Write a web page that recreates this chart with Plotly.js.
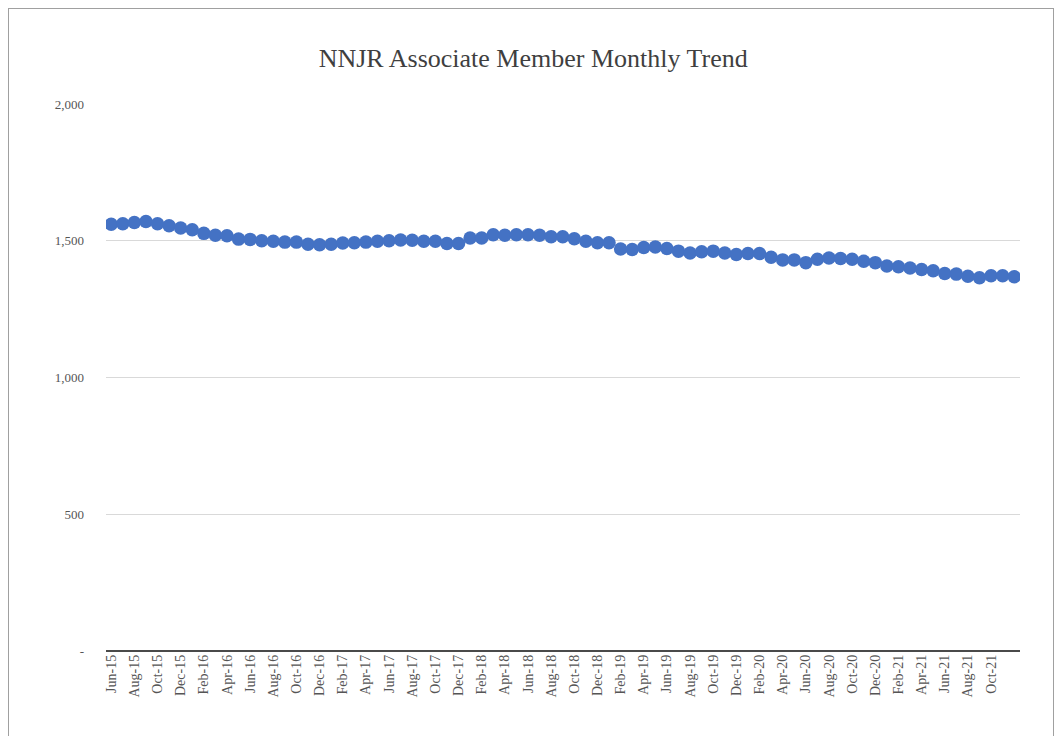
<!DOCTYPE html>
<html>
<head>
<meta charset="utf-8">
<script src="https://cdn.plot.ly/plotly-3.0.1.min.js"></script>
<style>
  html, body { margin: 0; padding: 0; background: #ffffff; }
  #frame { position: absolute; left: 8px; top: 8px; width: 1046px; height: 740px; border: 1px solid #a0a0a0; box-sizing: border-box; }
  #chart { position: absolute; left: 0; top: 0; width: 1060px; height: 736px; }
</style>
</head>
<body>
<div id="frame"></div>
<div id="chart"></div>
<script>
const months = [
  "Jun-15","Jul-15","Aug-15","Sep-15","Oct-15","Nov-15","Dec-15",
  "Jan-16","Feb-16","Mar-16","Apr-16","May-16","Jun-16","Jul-16","Aug-16","Sep-16","Oct-16","Nov-16","Dec-16",
  "Jan-17","Feb-17","Mar-17","Apr-17","May-17","Jun-17","Jul-17","Aug-17","Sep-17","Oct-17","Nov-17","Dec-17",
  "Jan-18","Feb-18","Mar-18","Apr-18","May-18","Jun-18","Jul-18","Aug-18","Sep-18","Oct-18","Nov-18","Dec-18",
  "Jan-19","Feb-19","Mar-19","Apr-19","May-19","Jun-19","Jul-19","Aug-19","Sep-19","Oct-19","Nov-19","Dec-19",
  "Jan-20","Feb-20","Mar-20","Apr-20","May-20","Jun-20","Jul-20","Aug-20","Sep-20","Oct-20","Nov-20","Dec-20",
  "Jan-21","Feb-21","Mar-21","Apr-21","May-21","Jun-21","Jul-21","Aug-21","Sep-21","Oct-21","Nov-21","Dec-21"
];

const members = [
  1560,1562,1567,1570,1562,1555,1547,
  1540,1527,1520,1518,1506,1505,1500,1498,1495,1495,1487,1485,
  1487,1492,1493,1495,1498,1500,1503,1502,1498,1498,1490,1490,
  1510,1510,1522,1520,1522,1522,1520,1515,1515,1507,1498,1493,
  1493,1470,1468,1475,1477,1472,1462,1455,1460,1462,1455,1450,
  1453,1453,1440,1430,1430,1420,1432,1437,1435,1432,1425,1420,
  1408,1405,1400,1395,1390,1380,1378,1370,1365,1372,1372,1368
];

const xTickLabels = [
  "Jun-15","Aug-15","Oct-15","Dec-15","Feb-16","Apr-16","Jun-16","Aug-16","Oct-16","Dec-16",
  "Feb-17","Apr-17","Jun-17","Aug-17","Oct-17","Dec-17","Feb-18","Apr-18","Jun-18","Aug-18",
  "Oct-18","Dec-18","Feb-19","Apr-19","Jun-19","Aug-19","Oct-19","Dec-19","Feb-20","Apr-20",
  "Jun-20","Aug-20","Oct-20","Dec-20","Feb-21","Apr-21","Jun-21","Aug-21","Oct-21"
];

const yTickValues = [0, 500, 1000, 1500, 2000];
const yTickLabels = ["-", "500", "1,000", "1,500", "2,000"];

const serif = "Liberation Serif, Times New Roman, serif";

const trace = {
  x: months,
  y: members,
  type: "scatter",
  mode: "markers",
  marker: { color: "#4472C4", size: 13.5, line: { width: 0 } },
  hoverinfo: "x+y"
};

const layout = {
  width: 1060,
  height: 736,
  paper_bgcolor: "rgba(0,0,0,0)",
  plot_bgcolor: "rgba(0,0,0,0)",
  margin: { l: 106, r: 40, t: 104, b: 85 },
  showlegend: false,
  title: {
    text: "NNJR Associate Member Monthly Trend",
    font: { family: serif, size: 26, color: "#3f3f3f" },
    x: 0.503, xanchor: "center",
    y: 0.921, yanchor: "middle"
  },
  xaxis: {
    type: "category",
    range: [-0.45, 78.5],
    tickmode: "array",
    tickvals: xTickLabels,
    ticktext: xTickLabels,
    tickangle: -90,
    tickfont: { family: serif, size: 14, color: "#555555" },
    showgrid: false,
    showline: false,
    zeroline: false,
    ticks: "",
    ticklen: 0
  },
  yaxis: {
    range: [0, 2000],
    tickmode: "array",
    tickvals: yTickValues,
    ticktext: yTickLabels,
    tickfont: { family: serif, size: 13, color: "#555555" },
    showgrid: true,
    gridcolor: "#d9d9d9",
    gridwidth: 1,
    zeroline: true,
    zerolinecolor: "#4a4a4a",
    zerolinewidth: 2.5,
    showline: false,
    ticks: "",
    ticklabelstandoff: 21,
    fixedrange: true
  }
};

Plotly.newPlot("chart", [trace], layout, { displayModeBar: false, staticPlot: true });
</script>
</body>
</html>
